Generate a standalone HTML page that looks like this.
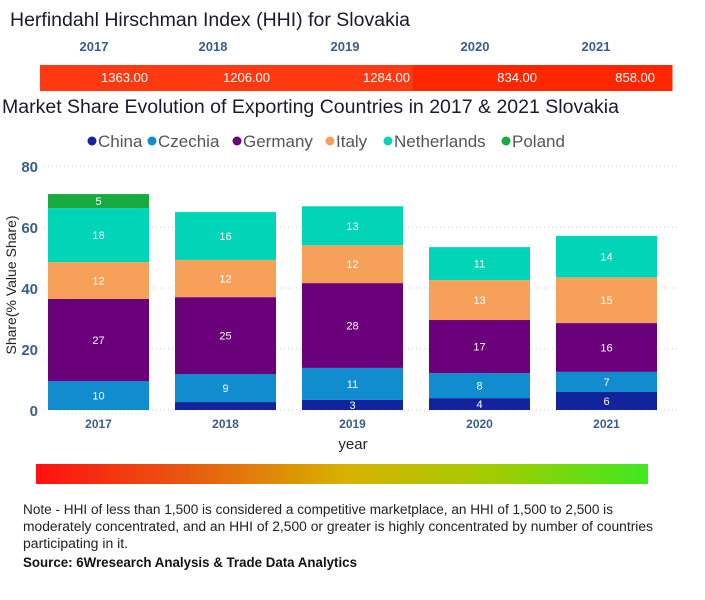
<!DOCTYPE html>
<html><head><meta charset="utf-8"><style>
html,body{margin:0;padding:0;background:#fff;}
svg{display:block;font-family:"Liberation Sans",sans-serif;}
</style></head><body>
<svg id="page" width="705" height="600" viewBox="0 0 705 600">
<text x="10" y="26" font-size="19" fill="#1a1a2e" textLength="400" lengthAdjust="spacingAndGlyphs">Herfindahl Hirschman Index (HHI) for Slovakia</text>
<g id="hhi"></g>
<text x="2" y="113" font-size="19" fill="#1a1a2e" textLength="617" lengthAdjust="spacingAndGlyphs">Market Share Evolution of Exporting Countries in 2017 &amp; 2021 Slovakia</text>
<g id="legend"></g>
<g id="chart"></g>
<text x="16" y="285" font-size="14" fill="#222" text-anchor="middle" transform="rotate(-90 16 285)">Share(% Value Share)</text>
<text x="353" y="449" font-size="15" fill="#222" text-anchor="middle">year</text>
<defs><linearGradient id="grad" x1="0" x2="1"><stop offset="0" stop-color="#ff1010"/><stop offset="0.25" stop-color="#e85a10"/><stop offset="0.5" stop-color="#d8b000"/><stop offset="0.75" stop-color="#a0cc00"/><stop offset="1" stop-color="#40e820"/></linearGradient></defs>
<rect x="36" y="464" width="612" height="20" fill="url(#grad)"/>
<g font-size="13.5" fill="#222">
<text x="23" y="514" textLength="590" lengthAdjust="spacingAndGlyphs">Note - HHI of less than 1,500 is considered a competitive marketplace, an HHI of 1,500 to 2,500 is</text>
<text x="23" y="531" textLength="630" lengthAdjust="spacingAndGlyphs">moderately concentrated, and an HHI of 2,500 or greater is highly concentrated by number of countries</text>
<text x="23" y="548" textLength="105" lengthAdjust="spacingAndGlyphs">participating in it.</text>
</g>
<text x="23" y="567" font-size="13.5" font-weight="bold" fill="#111" textLength="334" lengthAdjust="spacingAndGlyphs">Source: 6Wresearch Analysis &amp; Trade Data Analytics</text>
</svg>
<script>
const years = ['2017','2018','2019','2020','2021'];
const hhiValues = [1363, 1206, 1284, 834, 858];
const seriesNames = ['China','Czechia','Germany','Italy','Netherlands','Poland'];
const seriesColors = ['#12239e','#118dcf','#6b007b','#f6a05a','#00d5b8','#1aab40'];
const china = [0, 2.6, 3.3, 3.9, 5.9];
const czechia = [9.5, 9.2, 10.5, 8.2, 6.6];
const germany = [26.9, 25.2, 27.8, 17.4, 16.0];
const italy = [12.1, 12.2, 12.4, 13.1, 15.0];
const netherlands = [17.7, 15.7, 12.8, 10.8, 13.6];
const poland = [4.6, 0, 0, 0, 0];
const yTicks = [0, 20, 40, 60, 80];

const NS='http://www.w3.org/2000/svg';
function mk(tag, attrs, parent){const e=document.createElementNS(NS,tag);for(const k in attrs)e.setAttribute(k,attrs[k]);parent.appendChild(e);return e;}
const y0=410, yTop=166, yMax=80;
const yScale=v=>y0-(v/yMax)*(y0-yTop);
const barW=101;
const xBand=i=>48+i*127;

// HHI table layout
const hhi=document.getElementById('hhi');
const cellEdges=[40,160,286,413,540,672];
const yearLabelX=[94,213,345,475,596];
const valueRightX=[148,270,410,537,655];
years.forEach((y,i)=>{
  const t=mk('text',{x:yearLabelX[i],y:51,'font-size':13,'font-weight':'bold',fill:'#3a5e8c','text-anchor':'middle'},hhi);
  t.textContent=y;
  
  
  const r=mk('rect',{x:cellEdges[i],y:65,width:cellEdges[i+1]-cellEdges[i]+0.5,height:26,fill:hhiValues[i]>1000?'#ff3a12':'#ff2600'},hhi);
  
  
  const v=mk('text',{x:valueRightX[i],y:82,'font-size':13,fill:'#fff','text-anchor':'end'},hhi);
  v.textContent=hhiValues[i].toFixed(2);
  
  
});

// legend
const lg=document.getElementById('legend');
const legX=[92,152,237,330,388,506];
seriesNames.forEach((n,i)=>{
  const c=mk('circle',{cx:legX[i],cy:141,r:4.5,fill:seriesColors[i]},lg);
  
  
  const t=mk('text',{x:legX[i]+6,y:147,'font-size':17,fill:'#555'},lg);
  t.textContent=n;
  
  
});

// chart
const ch=document.getElementById('chart');
yTicks.forEach(v=>{
  const l=mk('line',{x1:44,x2:680,y1:yScale(v),y2:yScale(v),stroke:'#ccc','stroke-dasharray':'1 3'},ch);
  
  
  const t=mk('text',{x:38,y:yScale(v)+6,'font-size':15,'font-weight':'bold',fill:'#3a5e8c','text-anchor':'end'},ch);
  t.textContent=v;
  
  
});
const series=[china,czechia,germany,italy,netherlands,poland];
years.forEach((yr,i)=>{
  let acc=0;
  const x=xBand(i);
  series.forEach((s,k)=>{
    const v=s[i]; if(!v) return;
    const yt=yScale(acc+v), yb=yScale(acc);
    const r=mk('rect',{x:x,y:yt,width:barW,height:yb-yt,fill:seriesColors[k]},ch);
    
    
    if(yb-yt>=9.5){
      const lbl=mk('text',{x:x+barW/2,y:(yt+yb)/2+4,'font-size':11,fill:'#fff','text-anchor':'middle'},ch);
      lbl.textContent=Math.round(v);
      
      
    }
    acc+=v;
  });
  const t=mk('text',{x:x+barW/2,y:428,'font-size':12,'font-weight':'bold',fill:'#3a5e8c','text-anchor':'middle'},ch);
  t.textContent=yr;
  
  
});
</script>
</body></html>
